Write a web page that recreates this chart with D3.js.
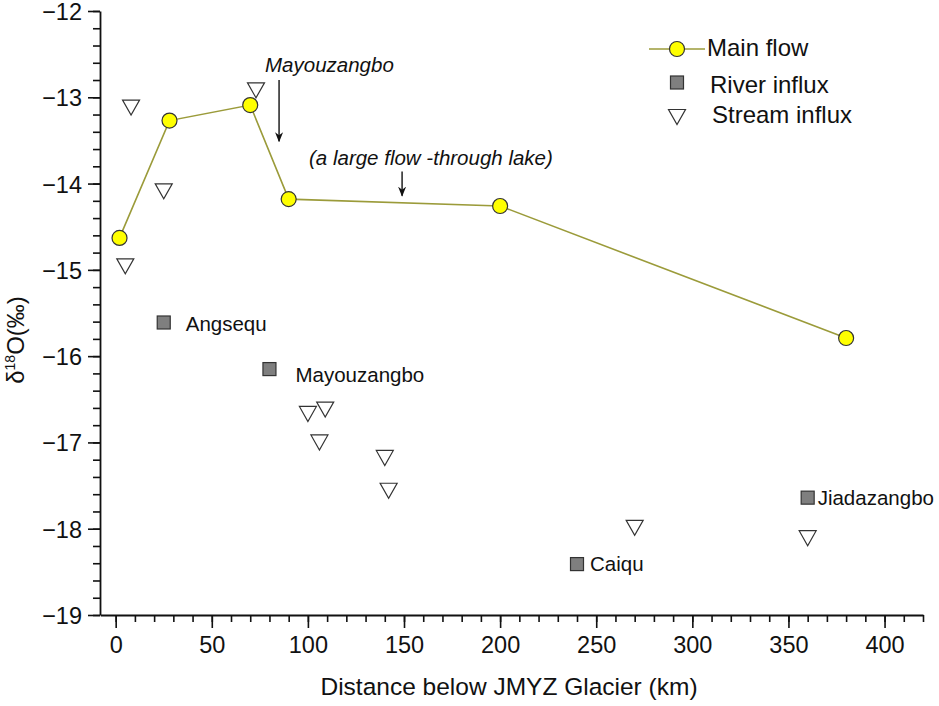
<!DOCTYPE html>
<html>
<head>
<meta charset="utf-8">
<script src="https://cdn.jsdelivr.net/npm/d3@7"></script>
<style>
  body { margin: 0; background: #fff; }
  text { font-family: "Liberation Sans", Arial, Helvetica, sans-serif; fill: #111; }
</style>
</head>
<body>
<div id="chart"></div>
<script>
// main flow
let mainX = [2, 28, 70, 90, 200, 380]
let mainY = [-14.63, -13.27, -13.09, -14.18, -14.26, -15.79]

// river influx
let riverX = [25, 80, 240, 360]
let riverY = [-15.61, -16.15, -18.41, -17.64]
let riverNames = ["Angsequ", "Mayouzangbo", "Caiqu", "Jiadazangbo"]

// stream influx
let streamX = [8, 25, 5, 73, 100, 109, 106, 140, 142, 270, 360]
let streamY = [-13.12, -14.09, -14.96, -12.92, -16.67, -16.62, -17.0, -17.18, -17.56, -17.99, -18.11]

let xTicks = [0, 50, 100, 150, 200, 250, 300, 350, 400]
let yTicks = [-19, -18, -17, -16, -15, -14, -13, -12]

let legendNames = ["Main flow", "River influx", "Stream influx"]

const width = 939, height = 706

const svg = d3.select('#chart').append('svg')
    .attr('width', width)
    .attr('height', height)

const x = d3.scaleLinear().domain([-8, 420]).range([100.3, 923])
const y = d3.scaleLinear().domain([-19, -12]).range([615, 11])

// minor ticks first, then major on top
const xMinor = d3.range(0, 421, 10)
const yMinor = d3.range(-19, -11.99, 0.2)

svg.append('g')
    .attr('transform', 'translate(0,615)')
    .call(d3.axisBottom(x).tickValues(xMinor).tickSize(7).tickFormat(''))
    .call(g => g.select('.domain').remove())
svg.append('g')
    .attr('transform', 'translate(100,0)')
    .call(d3.axisLeft(y).tickValues(yMinor).tickSize(7).tickFormat(''))
    .call(g => g.select('.domain').remove())

const xAxis = svg.append('g')
    .attr('transform', 'translate(0,615)')
    .call(d3.axisBottom(x).tickValues(xTicks).tickSize(13).tickSizeOuter(0).tickPadding(8))
xAxis.selectAll('text').style('font-size', '23.5px')

const yAxis = svg.append('g')
    .attr('transform', 'translate(100,0)')
    .call(d3.axisLeft(y).tickValues(yTicks).tickFormat(d3.format('d')).tickSize(12).tickSizeOuter(0).tickPadding(6))
yAxis.selectAll('text').style('font-size', '23.5px').attr('dy', '0.36em')

svg.selectAll('.tick line').attr('stroke', '#111').attr('stroke-width', 1.6)
svg.selectAll('.domain').attr('stroke', '#111').attr('stroke-width', 1.8)

// axis titles
svg.append('text')
    .attr('x', 509).attr('y', 695)
    .attr('text-anchor', 'middle')
    .style('font-size', '24.5px')
    .text('Distance below JMYZ Glacier (km)')

const yTitle = svg.append('text')
    .attr('transform', 'translate(24,340) rotate(-90)')
    .attr('text-anchor', 'middle')
    .style('font-size', '24px')
yTitle.append('tspan').text('δ')
yTitle.append('tspan').text('18').style('font-size', '14px').attr('dy', '-9')
yTitle.append('tspan').text('O(‰)').attr('dy', '9')

// triangle (pointing down), centred on its box
const tri = (w, h) => `M${-w/2},${-h/2}L${w/2},${-h/2}L0,${h/2}Z`

// stream influx
svg.append('g').selectAll('path')
    .data(streamX)
    .enter().append('path')
    .attr('d', tri(17, 15))
    .attr('transform', (d, i) => `translate(${x(d)},${y(streamY[i])})`)
    .attr('fill', '#fff')
    .attr('stroke', '#333')
    .attr('stroke-width', 1.2)

// river influx
const rivers = svg.append('g').selectAll('g')
    .data(riverX)
    .enter().append('g')
    .attr('transform', (d, i) => `translate(${x(d)},${y(riverY[i])})`)

rivers.append('rect')
    .attr('x', -6.5).attr('y', -6.5)
    .attr('width', 13).attr('height', 13)
    .attr('fill', '#7f7f7f')
    .attr('stroke', '#333')
    .attr('stroke-width', 1.2)

let labelOffsets = [[22, 9], [26, 13], [13, 7], [10, 7]]
rivers.append('text')
    .attr('x', (d, i) => labelOffsets[i][0])
    .attr('y', (d, i) => labelOffsets[i][1])
    .style('font-size', '20.5px')
    .text((d, i) => riverNames[i])

// main flow
const line = d3.line()
    .x((d, i) => x(d))
    .y((d, i) => y(mainY[i]))

svg.append('path')
    .datum(mainX)
    .attr('d', line)
    .attr('fill', 'none')
    .attr('stroke', '#9b9b3a')
    .attr('stroke-width', 1.6)

svg.append('g').selectAll('circle')
    .data(mainX)
    .enter().append('circle')
    .attr('cx', d => x(d))
    .attr('cy', (d, i) => y(mainY[i]))
    .attr('r', 7.5)
    .attr('fill', '#ffff00')
    .attr('stroke', '#333')
    .attr('stroke-width', 1.2)

// annotations
svg.append('defs').append('marker')
    .attr('id', 'arrow')
    .attr('viewBox', '0 0 10 10')
    .attr('refX', 9).attr('refY', 5)
    .attr('markerWidth', 10).attr('markerHeight', 10)
    .attr('markerUnits', 'userSpaceOnUse')
    .attr('orient', 'auto')
    .append('path')
    .attr('d', 'M0,1L10,5L0,9L3,5Z')
    .attr('fill', '#111')

svg.append('text')
    .attr('x', 265).attr('y', 72)
    .style('font-size', '20.5px').style('font-style', 'italic')
    .text('Mayouzangbo')
svg.append('line')
    .attr('x1', x(85)).attr('x2', x(85))
    .attr('y1', y(-12.8)).attr('y2', y(-13.51))
    .attr('stroke', '#111').attr('stroke-width', 1.4)
    .attr('marker-end', 'url(#arrow)')

svg.append('text')
    .attr('x', 309).attr('y', 165)
    .style('font-size', '20.5px').style('font-style', 'italic')
    .text('(a large flow -through lake)')
svg.append('line')
    .attr('x1', x(149)).attr('x2', x(149))
    .attr('y1', y(-13.86)).attr('y2', y(-14.14))
    .attr('stroke', '#111').attr('stroke-width', 1.4)
    .attr('marker-end', 'url(#arrow)')

// legend
const legend = svg.append('g')
legend.append('line')
    .attr('x1', 649).attr('x2', 705).attr('y1', 49).attr('y2', 49)
    .attr('stroke', '#9b9b3a').attr('stroke-width', 1.6)
legend.append('circle')
    .attr('cx', 677).attr('cy', 49).attr('r', 7.5)
    .attr('fill', '#ffff00').attr('stroke', '#333').attr('stroke-width', 1.2)
legend.append('rect')
    .attr('x', 670.5).attr('y', 76).attr('width', 13).attr('height', 13)
    .attr('fill', '#7f7f7f').attr('stroke', '#333').attr('stroke-width', 1.2)
legend.append('path')
    .attr('d', tri(17, 15))
    .attr('transform', 'translate(677,117)')
    .attr('fill', '#fff').attr('stroke', '#333').attr('stroke-width', 1.2)

let legendPos = [[707, 56], [710, 93], [712, 123]]
legend.selectAll('text.lg')
    .data(legendNames)
    .enter().append('text')
    .attr('class', 'lg')
    .attr('x', (d, i) => legendPos[i][0])
    .attr('y', (d, i) => legendPos[i][1])
    .style('font-size', '24px')
    .text(d => d)
</script>
</body>
</html>
